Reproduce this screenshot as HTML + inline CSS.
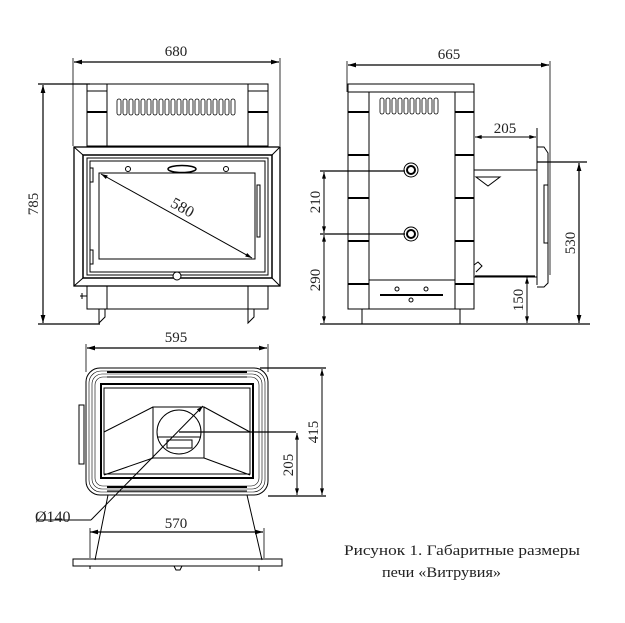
<!DOCTYPE html>
<html><head><meta charset="utf-8"><style>
html,body{margin:0;padding:0;background:#fff;}
svg{display:block;}
text{font-family:"Liberation Serif","Noto Serif CJK SC",serif;fill:#222;}
</style></head><body>
<svg width="625" height="623" viewBox="0 0 625 623" xmlns="http://www.w3.org/2000/svg">
<defs>
<marker id="a" viewBox="0 0 10 6" refX="10" refY="3" markerWidth="8" markerHeight="4" orient="auto-start-reverse"><path d="M0,0 L10,3 L0,6 z" fill="#000"/></marker>
</defs>
<g stroke="#000" fill="none" stroke-width="1">
<!-- FRONT VIEW -->
<line x1="73" y1="58" x2="73" y2="146" stroke-width="0.8"/>
<line x1="280" y1="58" x2="280" y2="146" stroke-width="0.8"/>
<line x1="74" y1="62" x2="279" y2="62" stroke-width="1.2" marker-start="url(#a)" marker-end="url(#a)"/>
<line x1="38" y1="84" x2="90" y2="84" stroke-width="1.2"/>
<line x1="38" y1="324" x2="100" y2="324" stroke-width="1.2"/>
<line x1="43" y1="85" x2="43" y2="323" stroke-width="1.2" marker-start="url(#a)" marker-end="url(#a)"/>
<rect x="87" y="84" width="181" height="62"/>
<rect x="87" y="84" width="20" height="7"/><rect x="248" y="84" width="20" height="7"/>
<line x1="107" y1="84" x2="107" y2="146"/><line x1="248" y1="84" x2="248" y2="146"/>
<line x1="87" y1="112" x2="107" y2="112" stroke-width="2"/><line x1="248" y1="112" x2="268" y2="112" stroke-width="2"/>
<g stroke-width="0.8">
<rect x="117" y="99" width="4" height="16" rx="2"/><rect x="123" y="99" width="4" height="16" rx="2"/><rect x="129" y="99" width="4" height="16" rx="2"/><rect x="135" y="99" width="4" height="16" rx="2"/><rect x="141" y="99" width="4" height="16" rx="2"/><rect x="147" y="99" width="4" height="16" rx="2"/><rect x="153" y="99" width="4" height="16" rx="2"/><rect x="159" y="99" width="4" height="16" rx="2"/><rect x="165" y="99" width="4" height="16" rx="2"/><rect x="171" y="99" width="4" height="16" rx="2"/><rect x="177" y="99" width="4" height="16" rx="2"/><rect x="183" y="99" width="4" height="16" rx="2"/><rect x="189" y="99" width="4" height="16" rx="2"/><rect x="195" y="99" width="4" height="16" rx="2"/><rect x="201" y="99" width="4" height="16" rx="2"/><rect x="207" y="99" width="4" height="16" rx="2"/><rect x="213" y="99" width="4" height="16" rx="2"/><rect x="219" y="99" width="4" height="16" rx="2"/><rect x="225" y="99" width="4" height="16" rx="2"/><rect x="231" y="99" width="4" height="16" rx="2"/>
</g>
<rect x="74" y="147" width="206" height="139" stroke-width="1.3"/>
<path d="M74,147 L83,155 M280,147 L272,155 M74,286 L83,278 M280,286 L272,278"/>
<rect x="83" y="155" width="189" height="123" stroke-width="1.5"/>
<rect x="87" y="158" width="181" height="117"/>
<rect x="90" y="161" width="175" height="111"/>
<rect x="99" y="173" width="156" height="86"/>
<circle cx="128" cy="169" r="2.5"/><circle cx="226" cy="169" r="2.5"/>
<ellipse cx="182" cy="169" rx="14" ry="3.5" stroke-width="1.5"/>
<circle cx="177" cy="276" r="4" fill="#fff"/>
<rect x="90" y="168" width="3" height="14"/><rect x="90" y="250" width="3" height="14"/>
<rect x="257" y="185" width="3" height="52"/>
<line x1="101" y1="174" x2="252" y2="258" stroke-width="1" marker-start="url(#a)" marker-end="url(#a)"/>
<rect x="87" y="286" width="181" height="23"/>
<line x1="107" y1="286" x2="107" y2="309"/><line x1="248" y1="286" x2="248" y2="309"/>
<path d="M99,309 L99,323 L105,317 L105,309 M248,309 L248,323 L254,317 L254,309"/>
<path d="M80,296 L87,296 M82,293 L82,299"/>
<!-- SIDE VIEW -->
<line x1="347" y1="61" x2="347" y2="92" stroke-width="0.8"/>
<line x1="550" y1="61" x2="550" y2="275" stroke-width="0.8"/>
<line x1="348" y1="65" x2="549" y2="65" stroke-width="1.2" marker-start="url(#a)" marker-end="url(#a)"/>
<rect x="348" y="84" width="126" height="225"/>
<rect x="348" y="84" width="126" height="8"/>
<line x1="369" y1="92" x2="369" y2="309"/><line x1="455" y1="92" x2="455" y2="309"/>
<g stroke-width="2"><line x1="348" y1="112" x2="369" y2="112"/><line x1="455" y1="112" x2="474" y2="112"/><line x1="348" y1="155" x2="369" y2="155"/><line x1="455" y1="155" x2="474" y2="155"/><line x1="348" y1="198" x2="369" y2="198"/><line x1="455" y1="198" x2="474" y2="198"/><line x1="348" y1="241" x2="369" y2="241"/><line x1="455" y1="241" x2="474" y2="241"/><line x1="348" y1="284" x2="369" y2="284"/><line x1="455" y1="284" x2="474" y2="284"/></g>
<g stroke-width="0.8"><rect x="380" y="98" width="4" height="16" rx="2"/><rect x="386" y="98" width="4" height="16" rx="2"/><rect x="392" y="98" width="4" height="16" rx="2"/><rect x="398" y="98" width="4" height="16" rx="2"/><rect x="404" y="98" width="4" height="16" rx="2"/><rect x="410" y="98" width="4" height="16" rx="2"/><rect x="416" y="98" width="4" height="16" rx="2"/><rect x="422" y="98" width="4" height="16" rx="2"/><rect x="428" y="98" width="4" height="16" rx="2"/><rect x="434" y="98" width="4" height="16" rx="2"/></g>
<circle cx="411" cy="170" r="7"/><circle cx="411" cy="170" r="4" stroke-width="2"/>
<circle cx="411" cy="234" r="7"/><circle cx="411" cy="234" r="4" stroke-width="2"/>
<line x1="320" y1="171" x2="405" y2="171" stroke-width="1.2"/>
<line x1="320" y1="234" x2="405" y2="234" stroke-width="1.2"/>
<line x1="320" y1="324" x2="590" y2="324" stroke-width="1.2"/>
<line x1="324" y1="172" x2="324" y2="233" marker-start="url(#a)" marker-end="url(#a)"/>
<line x1="324" y1="235" x2="324" y2="323" marker-start="url(#a)" marker-end="url(#a)"/>
<rect x="369" y="280" width="86" height="29"/>
<line x1="380" y1="295" x2="443" y2="295" stroke-width="2"/>
<circle cx="397" cy="289" r="2"/><circle cx="426" cy="289" r="2"/><circle cx="411" cy="300" r="2"/>
<path d="M362,309 L362,324 M460,309 L460,324"/>
<path d="M474,170 L537,170 M474,277 L537,277 M537,128 L537,285 M537,147 L544,147 L548,153 L548,283 L544,287 L537,287"/>
<rect x="544" y="185" width="4" height="58"/>
<path d="M476,177 L500,177 L488,186 Z"/>
<path d="M474,265 L478,262 L482,266 L476,272"/>
<line x1="475" y1="137" x2="536" y2="137" marker-start="url(#a)" marker-end="url(#a)"/>
<line x1="537" y1="162" x2="587" y2="162" stroke-width="1.2"/>
<line x1="579" y1="163" x2="579" y2="323" stroke-width="1.2" marker-start="url(#a)" marker-end="url(#a)"/>
<line x1="475" y1="276" x2="535" y2="276" stroke-width="1.2"/>
<line x1="527" y1="277" x2="527" y2="323" marker-start="url(#a)" marker-end="url(#a)"/>
<!-- TOP VIEW -->
<line x1="86" y1="344" x2="86" y2="372" stroke-width="0.8"/>
<line x1="268" y1="344" x2="268" y2="372" stroke-width="0.8"/>
<line x1="87" y1="348" x2="267" y2="348" stroke-width="1.2" marker-start="url(#a)" marker-end="url(#a)"/>
<rect x="86" y="368" width="182" height="127" rx="14"/>
<rect x="89" y="371" width="176" height="121" rx="12" stroke-width="0.6"/>
<rect x="92" y="374" width="170" height="115" rx="10" stroke-width="0.6"/>
<rect x="95" y="377" width="164" height="109" rx="8" stroke-width="0.6"/>
<rect x="101" y="384" width="152" height="94" stroke-width="2"/>
<rect x="104" y="388" width="146" height="86"/>
<line x1="107" y1="372" x2="247" y2="372" stroke-width="2"/><line x1="107" y1="377" x2="247" y2="377"/>
<line x1="107" y1="487" x2="247" y2="487" stroke-width="2"/><line x1="107" y1="491" x2="247" y2="491"/>
<rect x="79" y="405" width="5" height="59"/>
<rect x="153" y="407" width="51" height="51"/>
<path d="M104,432 L153,407 M104,475 L153,458 M250,432 L204,407 M250,475 L204,458"/>
<circle cx="179" cy="432" r="22"/>
<rect x="167" y="440" width="25" height="8"/>
<line x1="157" y1="437" x2="201" y2="437"/>
<line x1="179" y1="432" x2="296" y2="432" stroke-width="1.2"/>
<line x1="260" y1="368" x2="326" y2="368" stroke-width="1.2"/>
<line x1="268" y1="496" x2="326" y2="496" stroke-width="1.2"/>
<line x1="322" y1="369" x2="322" y2="495" marker-start="url(#a)" marker-end="url(#a)"/>
<line x1="297" y1="433" x2="297" y2="495" marker-start="url(#a)" marker-end="url(#a)"/>
<line x1="36" y1="520" x2="91" y2="520"/>
<line x1="91" y1="520" x2="203" y2="406" marker-end="url(#a)"/>
<path d="M108,495 L95,560 M247,495 L262,560"/>
<line x1="90" y1="528" x2="90" y2="558" stroke-width="0.8"/><line x1="264" y1="528" x2="264" y2="558" stroke-width="0.8"/>
<line x1="90" y1="532" x2="263" y2="532" stroke-width="1.2" marker-start="url(#a)" marker-end="url(#a)"/>
<rect x="73" y="559" width="209" height="7"/>
<path d="M174,566 L176,570 L180,570 L182,566 M259,566 L259,571 M90,566 L90,569"/>
</g>
<g font-size="15">
<text x="176" y="56" text-anchor="middle">680</text>
<text x="449" y="59" text-anchor="middle">665</text>
<text x="505" y="133" text-anchor="middle">205</text>
<text x="176" y="342" text-anchor="middle">595</text>
<text x="176" y="528" text-anchor="middle">570</text>
<text x="35" y="522" font-size="16">Ø140</text>
<text transform="translate(38,204) rotate(-90)" text-anchor="middle">785</text>
<text transform="translate(320,202) rotate(-90)" text-anchor="middle">210</text>
<text transform="translate(320,280) rotate(-90)" text-anchor="middle">290</text>
<text transform="translate(523,300) rotate(-90)" text-anchor="middle">150</text>
<text transform="translate(575,243) rotate(-90)" text-anchor="middle">530</text>
<text transform="translate(318,432) rotate(-90)" text-anchor="middle">415</text>
<text transform="translate(293,465) rotate(-90)" text-anchor="middle">205</text>
<text transform="translate(180,212) rotate(29)" text-anchor="middle" font-size="16">580</text>
<text x="344" y="555" font-size="15" textLength="236" lengthAdjust="spacingAndGlyphs">Рисунок 1.  Габаритные размеры</text>
<text x="382" y="577" font-size="15" textLength="119" lengthAdjust="spacingAndGlyphs">печи «Витрувия»</text>
</g>
</svg>
</body></html>
